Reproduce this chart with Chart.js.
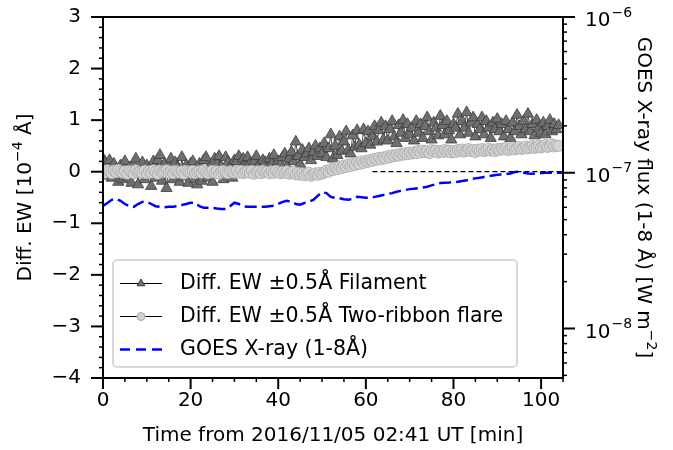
<!DOCTYPE html>
<html>
<head>
<meta charset="utf-8">
<script src="https://cdn.jsdelivr.net/npm/chart.js@4.4.0/dist/chart.umd.min.js"></script>
<style>
html, body { margin: 0; padding: 0; background: #fff; }
</style>
</head>
<body>
<canvas id="myChart" width="673" height="450"></canvas>
<script>
// sample step of the H-alpha EW series [min]
const ewStep = 0.5;

// Diff. EW +-0.5A, filament (10^-4 A)
const filamentEW = [
  0.25, 0.18, -0.08, 0.22, -0.12, 0.15, 0.05, -0.20, 0.12, -0.15, 0.20, -0.10, 0.08, -0.22, 0.15, 0.25, -0.25, 0.10, 0.18, -0.15, 0.12,
  0.05, -0.28, 0.20, -0.12, 0.22, 0.32, -0.18, 0.15, -0.32, 0.10, 0.25, -0.15, 0.18, 0.08, -0.20, 0.28, -0.10, 0.12, -0.22, 0.15,
  0.20, -0.15, -0.25, 0.15, -0.18, 0.22, 0.28, -0.12, 0.10, -0.20, 0.25, 0.15, 0.30, 0.10, -0.15, 0.28, 0.18, 0.08, -0.12, 0.22,
  0.20, 0.30, 0.05, 0.25, 0.10, 0.28, 0.15, 0.02, 0.20, 0.30, 0.12, 0.05, 0.22, 0.18, 0.08, 0.25, 0.15, 0.32, 0.10, 0.20,
  0.15, 0.28, 0.35, 0.10, 0.25, 0.38, 0.20, 0.58, 0.30, 0.15, 0.42, 0.28, 0.35, 0.45, 0.22, 0.38, 0.50, 0.30, 0.45, 0.35,
  0.55, 0.28, 0.45, 0.72, 0.25, 0.50, 0.32, 0.68, 0.40, 0.58, 0.78, 0.42, 0.35, 0.70, 0.48, 0.80, 0.52, 0.45, 0.82, 0.55,
  0.78, 0.52, 0.68, 0.88, 0.58, 0.80, 0.95, 0.62, 0.88, 0.60, 0.82, 0.98, 0.68, 0.55, 0.90, 0.75, 1.00, 0.65, 0.92, 0.72,
  0.85, 0.60, 0.98, 0.75, 0.92, 0.65, 0.88, 1.05, 0.78, 0.62, 0.95, 0.85, 0.70, 1.08, 0.90, 0.72, 0.98, 0.80, 0.62, 0.92,
  0.85, 1.12, 0.72, 0.98, 0.85, 1.15, 0.75, 0.95, 1.05, 0.68, 0.92, 0.82, 1.05, 0.72, 0.98, 0.85, 0.65, 0.95, 0.82, 1.02,
  0.78, 0.92, 0.68, 0.98, 0.82, 0.65, 0.95, 0.78, 1.10, 0.88, 0.72, 0.98, 0.82, 1.12, 0.78, 0.92, 0.70, 1.00, 0.85, 0.75,
  0.95, 0.72, 0.88, 1.00, 0.78, 0.92, 0.82, 0.90
];

// Diff. EW +-0.5A, two-ribbon flare (10^-4 A)
const ribbonEW = [
  0.02, -0.02, 0.03, 0.00, -0.03, 0.02, -0.01, 0.04, 0.00, -0.02, 0.01, -0.04, 0.02, 0.00, -0.03, 0.03, -0.01, 0.00, -0.02, 0.02, -0.03,
  0.01, -0.02, 0.03, 0.00, -0.04, 0.02, -0.01, 0.00, 0.03, -0.02, 0.01, -0.03, 0.02, 0.00, -0.02, 0.01, -0.04, 0.02, 0.00, -0.01,
  0.02, -0.03, 0.00, 0.01, -0.02, 0.03, -0.01, -0.03, 0.00, 0.02, -0.02, 0.01, -0.04, 0.00, 0.02, -0.01, -0.03, 0.01, 0.00, -0.02,
  0.01, -0.02, 0.02, -0.03, 0.00, 0.01, -0.02, 0.02, -0.04, 0.00, 0.01, -0.03, 0.02, -0.01, 0.00, -0.03, 0.01, -0.02, 0.02, -0.01,
  -0.03, 0.00, -0.02, 0.01, -0.04, -0.01, 0.00, -0.05, -0.02, -0.06, -0.03, -0.07, -0.04, -0.02, -0.08, -0.05, -0.03, -0.06, -0.02, -0.04,
  -0.01, 0.02, 0.00, 0.05, 0.03, 0.08, 0.05, 0.10, 0.07, 0.12, 0.09, 0.14, 0.11, 0.16, 0.13, 0.18, 0.15, 0.20, 0.17, 0.21,
  0.19, 0.23, 0.21, 0.25, 0.23, 0.27, 0.24, 0.28, 0.26, 0.30, 0.28, 0.32, 0.30, 0.33, 0.31, 0.35, 0.33, 0.36, 0.34, 0.37,
  0.35, 0.38, 0.36, 0.40, 0.37, 0.41, 0.38, 0.40, 0.36, 0.42, 0.39, 0.41, 0.37, 0.40, 0.38, 0.42, 0.39, 0.41, 0.37, 0.40,
  0.38, 0.42, 0.40, 0.43, 0.39, 0.41, 0.44, 0.40, 0.42, 0.38, 0.43, 0.41, 0.44, 0.40, 0.42, 0.45, 0.41, 0.43, 0.40, 0.44,
  0.42, 0.45, 0.43, 0.46, 0.42, 0.44, 0.47, 0.43, 0.45, 0.48, 0.44, 0.46, 0.49, 0.45, 0.47, 0.50, 0.46, 0.48, 0.51, 0.47,
  0.49, 0.52, 0.48, 0.50, 0.53, 0.49, 0.51, 0.50
];

// GOES 1-8A flux, one value per minute [W m^-2]
const goesFlux = [
  6.13e-8, 6.4e-8, 6.7e-8, 6.8e-8, 6.6e-8, 6.3e-8, 6.1e-8, 6.04e-8, 6.3e-8, 6.5e-8,
  6.51e-8, 6.3e-8, 6.1e-8, 6.04e-8, 6.0e-8, 6.05e-8, 6.04e-8, 6.1e-8, 6.2e-8, 6.3e-8,
  6.42e-8, 6.42e-8, 6.1e-8, 5.95e-8, 5.95e-8, 5.95e-8, 5.9e-8, 5.86e-8, 5.86e-8, 6.1e-8,
  6.42e-8, 6.3e-8, 6.1e-8, 6.04e-8, 6.04e-8, 6.04e-8, 6.04e-8, 6.04e-8, 6.1e-8, 6.13e-8,
  6.3e-8, 6.5e-8, 6.61e-8, 6.5e-8, 6.3e-8, 6.23e-8, 6.4e-8, 6.51e-8, 6.7e-8, 7.1e-8,
  7.5e-8, 7.4e-8, 7.0e-8, 6.9e-8, 6.85e-8, 6.75e-8, 6.7e-8, 6.8e-8, 7.0e-8, 6.95e-8,
  6.9e-8, 6.9e-8, 7.0e-8, 7.1e-8, 7.2e-8, 7.33e-8, 7.4e-8, 7.55e-8, 7.65e-8, 7.75e-8,
  7.85e-8, 7.9e-8, 7.95e-8, 8.05e-8, 8.13e-8, 8.3e-8, 8.45e-8, 8.6e-8, 8.62e-8, 8.65e-8,
  8.7e-8, 8.75e-8, 8.85e-8, 8.95e-8, 9.1e-8, 9.2e-8, 9.29e-8, 9.4e-8, 9.5e-8, 9.6e-8,
  9.7e-8, 9.75e-8, 9.8e-8, 9.9e-8, 1.01e-7, 1.015e-7, 1.0e-7, 9.9e-8, 9.85e-8, 9.9e-8,
  9.95e-8, 1.0e-7, 1.0e-7, 1.0e-7, 1.0e-7, 1.0e-7
];

// reference level (flux 1e-7) drawn from here to the end
const refLine = [[61.5, 0], [105, 0]];

const xMajor = [0, 20, 40, 60, 80, 100];
const yMajor = [-4, -3, -2, -1, 0, 1, 2, 3];
const fluxMajor = [1e-8, 1e-7, 1e-6];
const fluxExp = ['\u22128', '\u22127', '\u22126'];

const FONT = '"DejaVu Sans", sans-serif';
const FS = 20;
Chart.defaults.color = '#000';
Chart.defaults.font.family = FONT;
Chart.defaults.font.size = FS;

function toPoints(arr, step) {
  return arr.map((v, i) => ({ x: i * step, y: v }));
}

// text with superscript parts: [[text, isSup], ...]
function drawRich(ctx, parts, size, cx, cy, angle) {
  const supSize = size * 0.7;
  let total = 0;
  parts.forEach(p => {
    ctx.font = (p[1] ? supSize : size) + 'px ' + FONT;
    total += ctx.measureText(p[0]).width;
  });
  ctx.save();
  ctx.translate(cx, cy);
  ctx.rotate(angle);
  ctx.textBaseline = 'middle';
  ctx.textAlign = 'left';
  ctx.fillStyle = '#000';
  let x = -total / 2;
  parts.forEach(p => {
    ctx.font = (p[1] ? supSize : size) + 'px ' + FONT;
    ctx.fillText(p[0], x, p[1] ? -size * 0.38 : 0);
    x += ctx.measureText(p[0]).width;
  });
  ctx.restore();
}

// ticks, frame, log labels and axis titles, matplotlib style
const frameTicks = {
  id: 'frameTicks',
  afterDraw(chart) {
    const ctx = chart.ctx, a = chart.chartArea;
    const sx = chart.scales.x, sy = chart.scales.y, sy2 = chart.scales.y2;
    ctx.save();
    ctx.strokeStyle = '#000';
    ctx.lineCap = 'butt';
    function tick(x1, y1, x2, y2, w) {
      ctx.lineWidth = w;
      ctx.beginPath(); ctx.moveTo(x1, y1); ctx.lineTo(x2, y2); ctx.stroke();
    }
    for (let v = 0; v <= 105; v += 5) {
      const p = sx.getPixelForValue(v);
      if (xMajor.includes(v)) tick(p, a.bottom, p, a.bottom + 11, 2);
      else tick(p, a.bottom, p, a.bottom + 4, 1.5);
    }
    for (let i = -20; i <= 15; i++) {
      const p = sy.getPixelForValue(i / 5);
      if (i % 5 === 0) tick(a.left, p, a.left - 12, p, 2);
      else tick(a.left, p, a.left - 4, p, 1.5);
    }
    for (let e = -9; e <= -6; e++) {
      for (let k = 1; k <= 9; k++) {
        const v = k * Math.pow(10, e);
        if (v < sy2.min * 0.999 || v > sy2.max * 1.001) continue;
        const p = sy2.getPixelForValue(v);
        if (k === 1) tick(a.right, p, a.right + 12, p, 2);
        else tick(a.right, p, a.right + 4, p, 1.5);
      }
    }
    ctx.lineWidth = 2;
    ctx.strokeRect(a.left, a.top, a.right - a.left, a.bottom - a.top);

    // right axis labels 10^n
    fluxMajor.forEach((v, i) => {
      const p = sy2.getPixelForValue(v);
      ctx.fillStyle = '#000';
      ctx.textAlign = 'left';
      ctx.textBaseline = 'middle';
      ctx.font = FS + 'px ' + FONT;
      ctx.fillText('10', a.right + 22, p + 4);
      const w = ctx.measureText('10').width;
      ctx.font = (FS * 0.7) + 'px ' + FONT;
      ctx.fillText(fluxExp[i], a.right + 23 + w, p - 4);
    });
    ctx.restore();

    const cy = (a.top + a.bottom) / 2;
    drawRich(ctx, [['Diff. EW [10', false], ['\u22124', true], [' \u00C5]', false]], FS, 26, cy, -Math.PI / 2);
    drawRich(ctx, [['GOES X-ray flux (1-8 \u00C5) [W m', false], ['\u22122', true], [']', false]], FS, 643, cy, Math.PI / 2);
  }
};

// legend box inside the axes, lower left
const boxLegend = {
  id: 'boxLegend',
  afterDraw(chart) {
    const ctx = chart.ctx, a = chart.chartArea;
    const bx = a.left + 10, by = a.bottom - 118, bw = 404, bh = 107, r = 4;
    ctx.save();
    ctx.beginPath();
    ctx.moveTo(bx + r, by);
    ctx.arcTo(bx + bw, by, bx + bw, by + bh, r);
    ctx.arcTo(bx + bw, by + bh, bx, by + bh, r);
    ctx.arcTo(bx, by + bh, bx, by, r);
    ctx.arcTo(bx, by, bx + bw, by, r);
    ctx.closePath();
    ctx.fillStyle = 'rgba(255,255,255,0.8)';
    ctx.fill();
    ctx.strokeStyle = '#cccccc';
    ctx.lineWidth = 1.5;
    ctx.stroke();

    const items = chart.data.datasets.filter(d => d.inLegend);
    items.forEach((d, i) => {
      const y = by + 23.5 + i * 33;
      const x0 = bx + 7, x1 = bx + 49;
      ctx.beginPath();
      ctx.setLineDash(d.legendDash || []);
      ctx.strokeStyle = d.borderColor;
      ctx.lineWidth = d.legendDash ? 2.5 : 1.2;
      ctx.moveTo(x0, y); ctx.lineTo(x1, y); ctx.stroke();
      ctx.setLineDash([]);
      if (d.pointRadius > 0) {
        ctx.fillStyle = d.pointBackgroundColor;
        ctx.strokeStyle = d.pointBorderColor;
        ctx.lineWidth = 1;
        Chart.helpers.drawPoint(ctx, { pointStyle: d.pointStyle, radius: d.pointStyle === 'triangle' ? 4.5 : 4, rotation: 0, borderWidth: 1 }, (x0 + x1) / 2, y);
      }
      ctx.fillStyle = '#000';
      ctx.font = '20.5px ' + FONT;
      ctx.textBaseline = 'middle';
      ctx.textAlign = 'left';
      ctx.fillText(d.label, bx + 67, y);
    });
    ctx.restore();
  }
};

const data = {
  datasets: [
    {
      label: 'Diff. EW \u00B10.5\u00C5 Filament',
      inLegend: true,
      data: toPoints(filamentEW, ewStep),
      yAxisID: 'y',
      borderColor: '#000',
      borderWidth: 0.7,
      pointStyle: 'triangle',
      pointRadius: 6.5,
      pointBackgroundColor: '#6f6f6f',
      pointBorderColor: '#3c3c3c',
      pointBorderWidth: 0.8,
      order: 3
    },
    {
      label: 'Diff. EW \u00B10.5\u00C5 Two-ribbon flare',
      inLegend: true,
      data: toPoints(ribbonEW, ewStep),
      yAxisID: 'y',
      borderColor: '#000',
      borderWidth: 0.7,
      pointStyle: 'circle',
      pointRadius: 5.5,
      pointBackgroundColor: '#d3d3d3',
      pointBorderColor: '#a8a8a8',
      pointBorderWidth: 0.8,
      order: 2
    },
    {
      label: 'GOES X-ray (1-8\u00C5)',
      inLegend: true,
      data: toPoints(goesFlux, 1),
      yAxisID: 'y2',
      borderColor: '#0000ff',
      borderWidth: 2.5,
      borderDash: [12, 5],
      legendDash: [10, 6],
      pointRadius: 0,
      order: 1
    },
    {
      label: 'ref',
      data: refLine.map(p => ({ x: p[0], y: p[1] })),
      yAxisID: 'y',
      borderColor: '#000',
      borderWidth: 1.3,
      borderDash: [5, 3],
      pointRadius: 0,
      order: 0
    }
  ]
};

function noPad(s) { s.paddingTop = 0; s.paddingBottom = 0; }

var myChart = new Chart(document.getElementById('myChart'), {
  type: 'line',
  data,
  plugins: [frameTicks, boxLegend],
  options: {
    responsive: false,
    animation: false,
    layout: { padding: { top: 17, right: 0, left: 0, bottom: 0 } },
    plugins: { legend: { display: false }, tooltip: { enabled: false } },
    elements: { line: { tension: 0 } },
    scales: {
      x: {
        type: 'linear',
        min: 0,
        max: 105,
        grid: { display: false, drawTicks: false },
        border: { display: false },
        afterBuildTicks: s => { s.ticks = xMajor.map(v => ({ value: v })); },
        afterFit: s => { s.height = 72; s.paddingLeft = 0; s.paddingRight = 0; },
        ticks: { padding: 11 },
        title: { display: true, text: 'Time from 2016/11/05 02:41 UT [min]', padding: { top: 0, bottom: 2 } }
      },
      y: {
        position: 'left',
        min: -4,
        max: 3,
        grid: { display: false, drawTicks: false },
        border: { display: false },
        afterBuildTicks: s => { s.ticks = yMajor.map(v => ({ value: v })); },
        afterFit: s => { s.width = 103; noPad(s); },
        ticks: { padding: 22, callback: v => String(v).replace('-', '\u2212') }
      },
      y2: {
        type: 'logarithmic',
        position: 'right',
        min: 4.81e-9,
        max: 1e-6,
        grid: { display: false, drawTicks: false },
        border: { display: false },
        afterBuildTicks: s => { s.ticks = fluxMajor.map(v => ({ value: v })); },
        afterFit: s => { s.width = 110; noPad(s); },
        ticks: { display: false }
      }
    }
  }
});
</script>
</body>
</html>
